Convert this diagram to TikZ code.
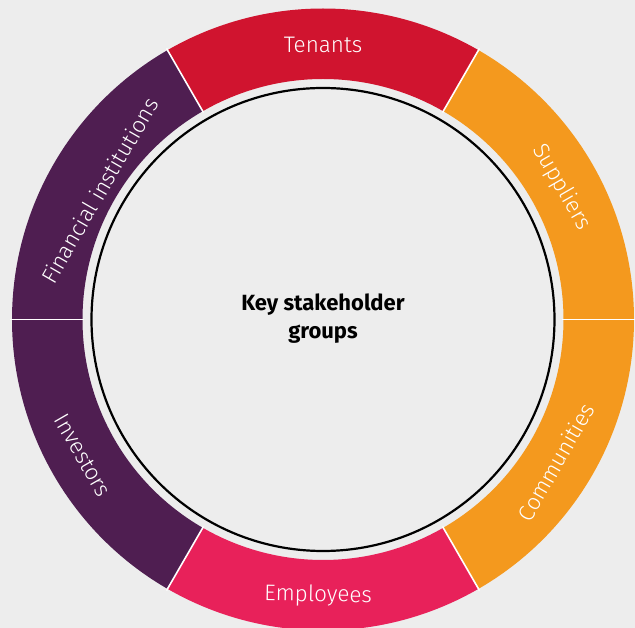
\documentclass[tikz,border=0pt]{standalone}
\usepackage{fontspec}
\setmainfont{Fira Sans}
\newfontfamily\lightfont{Fira Sans}[UprightFont={* Light}]
\definecolor{bgcol}{HTML}{EDEDED}
\definecolor{tenantred}{HTML}{D0142F}
\definecolor{supplyorange}{HTML}{F4991E}
\definecolor{staffpink}{HTML}{E8215A}
\definecolor{financepurple}{HTML}{4F1E51}
\tikzset{
  seglabel/.style={text=white, font=\lightfont\fontsize{22.5}{26}\selectfont, inner sep=0pt, anchor=center},
  divider/.style={draw=white, line width=1.6pt},
  hubtext/.style={font=\bfseries\fontsize{22}{28}\selectfont, align=center, text=black}
}
% ring sector between two angles
\newcommand\ringpart[3]{%
  \fill[#1] (#2:240.5) arc[start angle=#2, end angle=#3, radius=240.5]
    -- (#3:311) arc[start angle=#3, end angle=#2, radius=311] -- cycle;}
\begin{document}
\begin{tikzpicture}[x=1pt,y=1pt]
  \useasboundingbox (-323,-308.5) rectangle (312,319.5);
  \fill[bgcol] (-323,-308.5) rectangle (312,319.5);
  \clip (-323,-308.5) rectangle (312,319.5);
  % sectors of the ring
  \ringpart{supplyorange}{0}{60}
  \ringpart{tenantred}{60}{120}
  \ringpart{financepurple}{120}{180}
  \ringpart{financepurple}{180}{240}
  \ringpart{staffpink}{240}{300}
  \ringpart{supplyorange}{300}{360}
  % white separators
  \foreach \a in {0,60,...,300}
    \draw[divider] (\a:239) -- (\a:313);
  % inner circle
  \draw[black, line width=2.2pt] (0,0) circle[radius=231.5];
  % labels
  \node[seglabel] (tenants) at (90:275) {Tenants};
  \node[seglabel, rotate=-60] (suppliers) at (29:273) {Suppliers};
  \node[seglabel, rotate=60] (communities) at (-31.5:273) {Communities};
  \node[seglabel, rotate=-1] (employees) at (-91:276) {Employees};
  \node[seglabel, rotate=-60] (investors) at (209.5:276) {Investors};
  \node[seglabel, rotate=60] (financial) at (150:258) {Financial institutions};
  \node[hubtext] (hub) at (0,1) {Key stakeholder\\groups};
\end{tikzpicture}
\end{document}
